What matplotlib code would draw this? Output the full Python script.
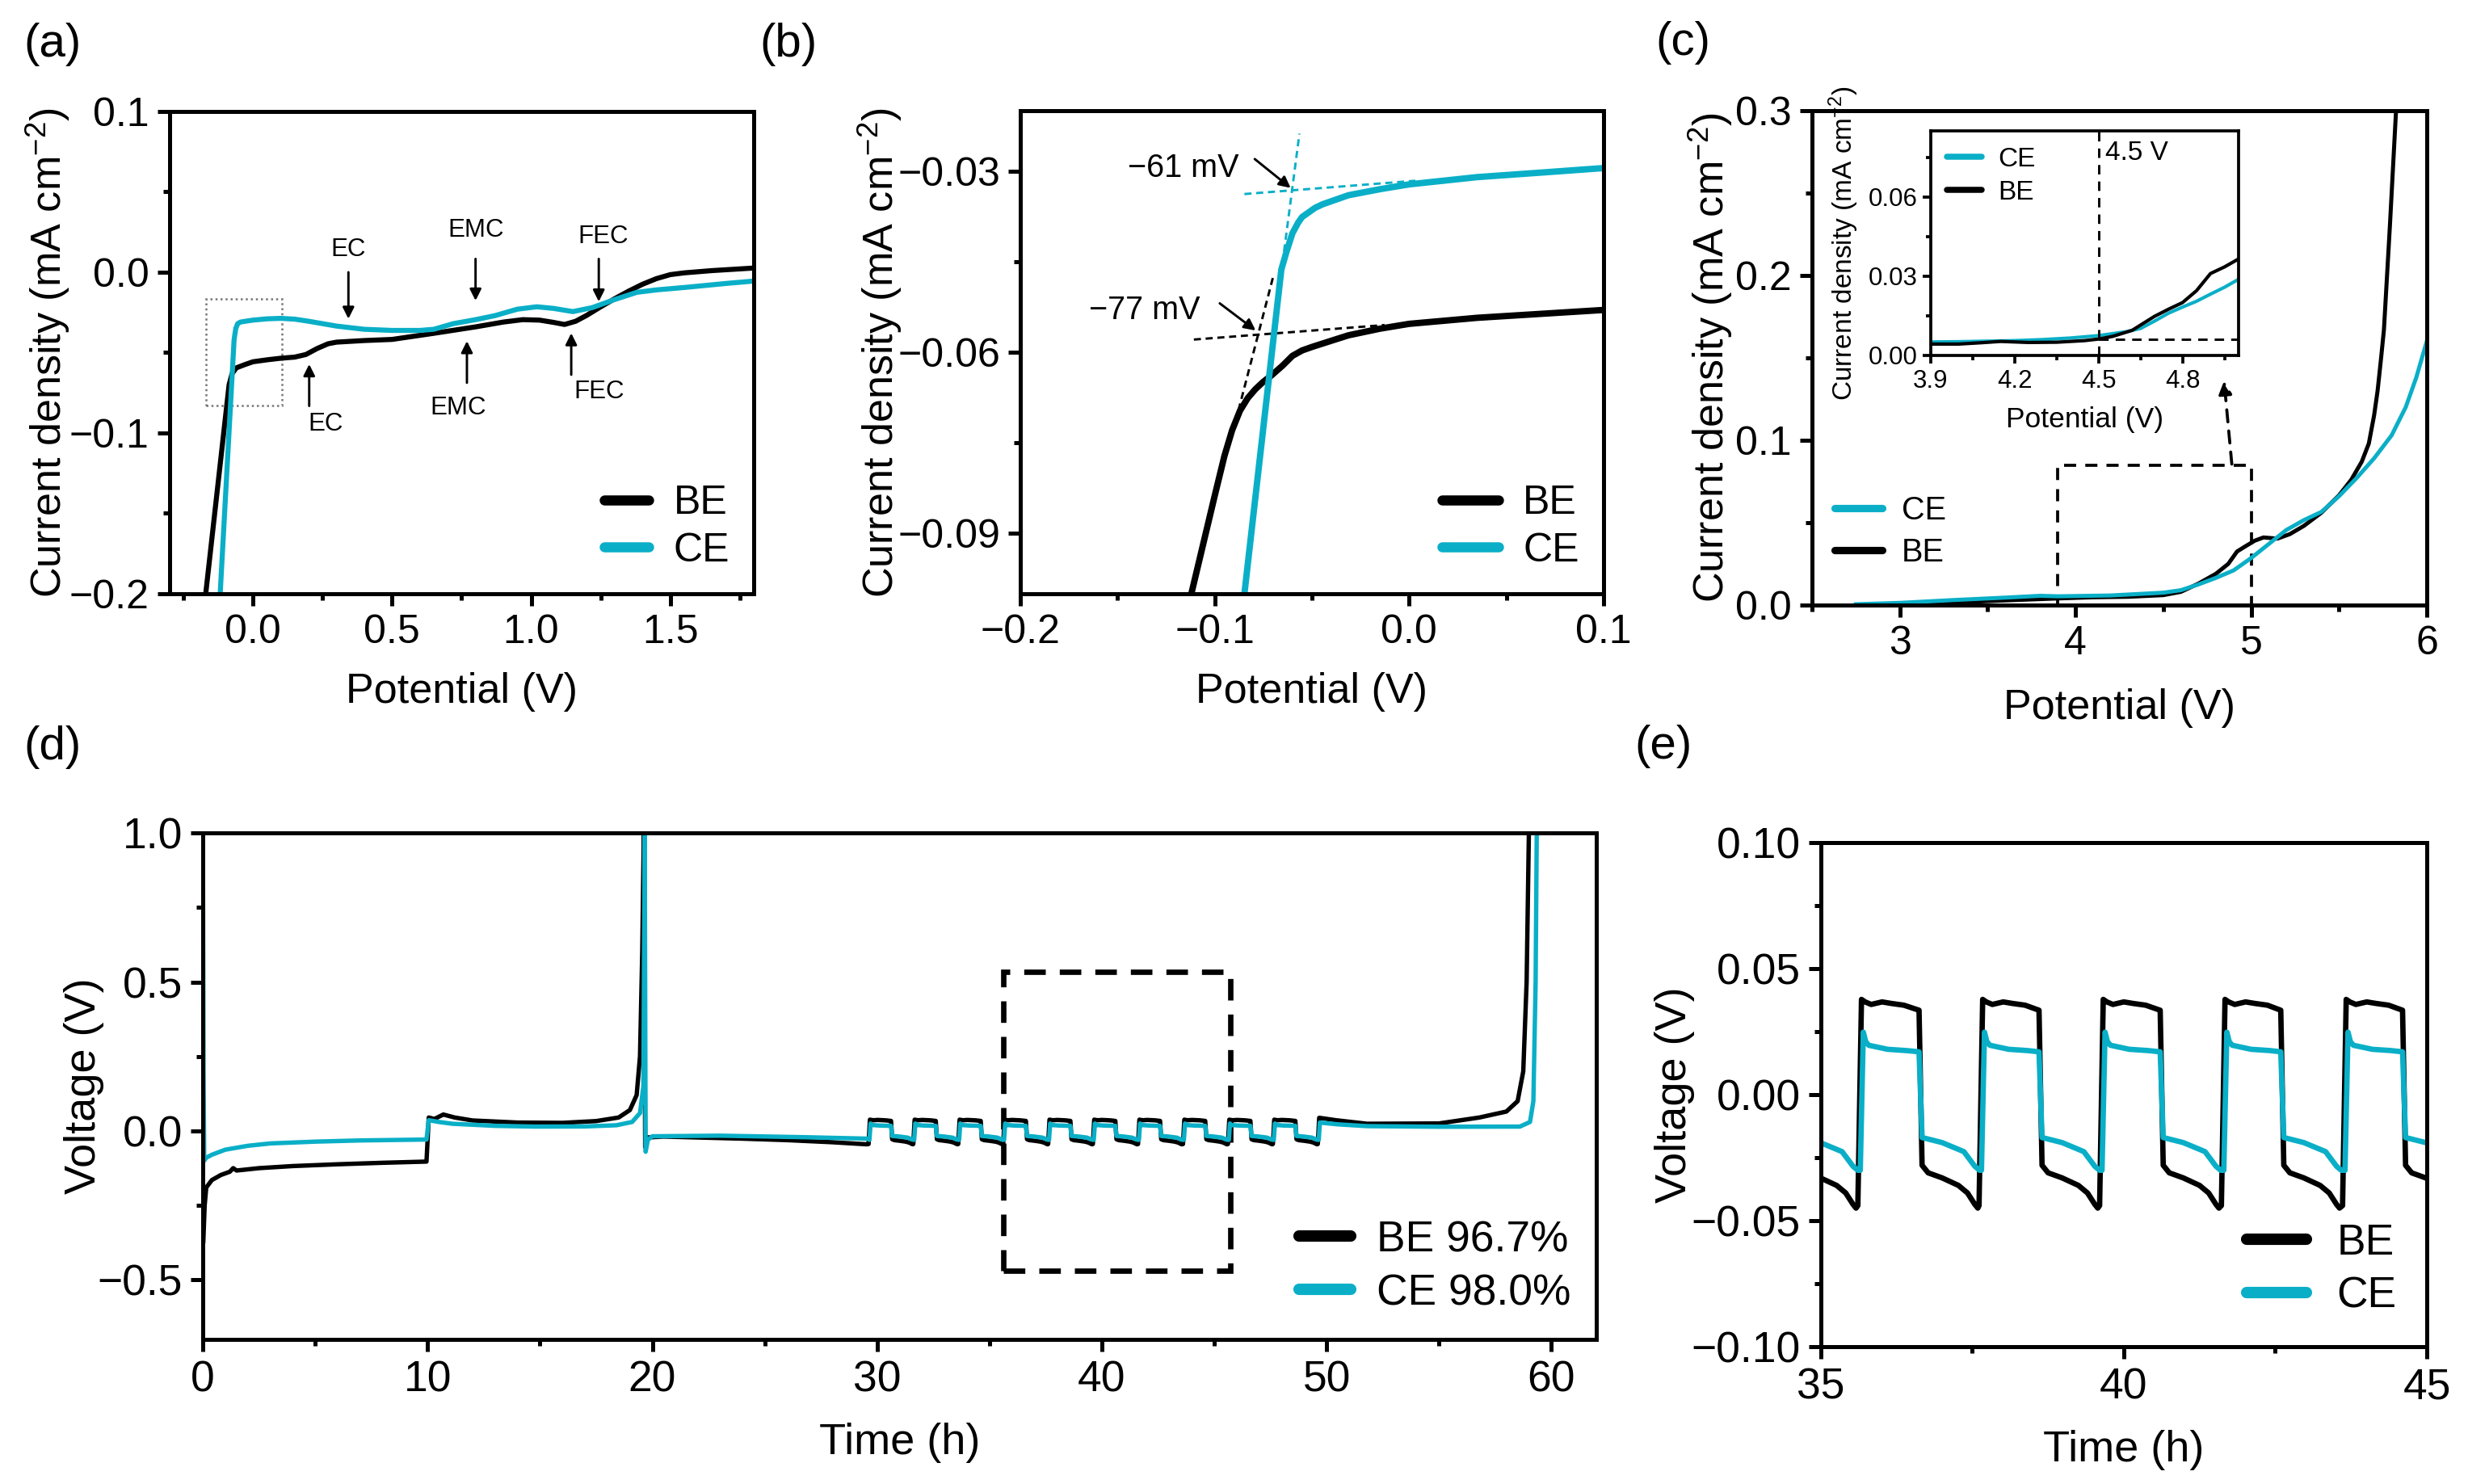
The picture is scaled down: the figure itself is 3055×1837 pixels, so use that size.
import matplotlib
matplotlib.use("Agg")
import matplotlib.pyplot as plt
from matplotlib.lines import Line2D
from matplotlib.patches import Rectangle
from matplotlib.ticker import MultipleLocator, FuncFormatter

plt.rcParams['font.family'] = ['Liberation Sans', 'DejaVu Sans']
plt.rcParams['mathtext.default'] = 'regular'

CYAN = '#0AAFC7'
BLACK = '#000000'

# ---------------- (a) LSV, wide window ----------------
a_be_x = [-0.17, -0.086, -0.075, -0.06, -0.03, 0.0, 0.05, 0.10, 0.15, 0.19, 0.23, 0.27, 0.30,
          0.40, 0.50, 0.65, 0.80, 0.90, 0.97, 1.03, 1.08, 1.12, 1.16, 1.20, 1.25, 1.30, 1.35,
          1.40, 1.45, 1.50, 1.55, 1.65, 1.80]
a_be_y = [-0.200, -0.070, -0.063, -0.0595, -0.0575, -0.0557, -0.0545, -0.0535, -0.0528, -0.0512,
          -0.0475, -0.0445, -0.0435, -0.0425, -0.0418, -0.038, -0.034, -0.031, -0.0295, -0.0298,
          -0.0312, -0.0325, -0.0305, -0.0268, -0.0215, -0.0165, -0.0118, -0.0075, -0.0040,
          -0.0015, -0.0004, 0.0010, 0.0026]
a_ce_x = [-0.118, -0.068, -0.062, -0.055, -0.045, -0.02, 0.0, 0.05, 0.10, 0.15, 0.20, 0.25, 0.30,
          0.40, 0.50, 0.60, 0.65, 0.72, 0.80, 0.87, 0.95, 1.02, 1.08, 1.15, 1.22, 1.30, 1.38,
          1.45, 1.55, 1.70, 1.80]
a_ce_y = [-0.200, -0.042, -0.035, -0.032, -0.031, -0.0303, -0.0298, -0.0290, -0.0287, -0.0292,
          -0.0305, -0.0320, -0.0335, -0.0355, -0.0362, -0.0362, -0.0355, -0.0320, -0.0295,
          -0.0270, -0.0230, -0.0215, -0.0225, -0.0245, -0.0220, -0.0170, -0.0125, -0.0110,
          -0.0095, -0.0070, -0.0055]
a_down_arrows = [('EC', 0.343, 0.0, -0.029, 0.343, 0.014),
                 ('EMC', 0.800, 0.0083, -0.0177, 0.800, 0.026),
                 ('FEC', 1.243, 0.0083, -0.0183, 1.258, 0.0221)]
a_up_arrows = [('EC', 0.202, -0.0832, -0.0572, 0.261, -0.0947),
               ('EMC', 0.769, -0.0688, -0.0428, 0.737, -0.0846),
               ('FEC', 1.144, -0.0638, -0.0379, 1.243, -0.0745)]

# ---------------- (b) LSV, onset close-up ----------------
b_be_x = [-0.112, -0.100, -0.095, -0.091, -0.087, -0.083, -0.079, -0.075, -0.071, -0.065,
          -0.060, -0.055, -0.0497, -0.040, -0.0312, -0.015, 0.0, 0.035, 0.07, 0.1]
b_be_y = [-0.100, -0.0838, -0.0772, -0.0729, -0.0697, -0.0676, -0.0661, -0.0649, -0.0639,
          -0.0622, -0.0606, -0.0597, -0.0591, -0.0581, -0.0572, -0.0561, -0.0553, -0.0543,
          -0.0536, -0.0530]
b_ce_x = [-0.0847, -0.0657, -0.063, -0.060, -0.057, -0.055, -0.0484, -0.0445, -0.0312, -0.015,
          0.0, 0.035, 0.07, 0.1]
b_ce_y = [-0.100, -0.0463, -0.0433, -0.0403, -0.0385, -0.0376, -0.0361, -0.0355, -0.0340,
          -0.0330, -0.0322, -0.0310, -0.0302, -0.0295]
b_tangents = [(CYAN, [-0.0643, -0.0564], [-0.0433, -0.0238]),
              (CYAN, [-0.0847, 0.0032], [-0.0338, -0.0316]),
              (BLACK, [-0.0908, -0.0696], [-0.0734, -0.0471]),
              (BLACK, [-0.1107, -0.0126], [-0.0579, -0.0555])]
b_onsets = [('\u221261 mV', -0.116, -0.0295, -0.0794, -0.0280, -0.0609, -0.0328),
            ('\u221277 mV', -0.136, -0.0531, -0.0974, -0.0519, -0.0789, -0.0564)]

# ---------------- (c) LSV, oxidation ----------------
c_be_x = [2.75, 3.0, 3.3, 3.6, 3.9, 4.1, 4.3, 4.5, 4.6, 4.7, 4.8, 4.87, 4.92, 4.97, 5.02, 5.07,
          5.15, 5.22, 5.30, 5.40, 5.50, 5.57, 5.63, 5.67, 5.70, 5.72, 5.74, 5.756, 5.79, 5.825]
c_be_y = [0.0, 0.0008, 0.0015, 0.0028, 0.0040, 0.0047, 0.0050, 0.0060, 0.0080, 0.0130, 0.0190,
          0.0250, 0.0325, 0.0358, 0.0390, 0.0410, 0.0403, 0.0430, 0.0480, 0.0560, 0.0665,
          0.0760, 0.0870, 0.0980, 0.1150, 0.1300, 0.1500, 0.1670, 0.2300, 0.3000]
c_ce_x = [2.75, 3.0, 3.3, 3.6, 3.8, 3.9, 4.2, 4.5, 4.6, 4.7, 4.8, 4.9, 5.0, 5.1, 5.2, 5.3, 5.4,
          5.5, 5.6, 5.7, 5.8, 5.88, 5.94, 6.0]
c_ce_y = [0.0005, 0.0013, 0.0030, 0.0045, 0.0056, 0.0053, 0.0058, 0.0075, 0.0090, 0.0125,
          0.0165, 0.0210, 0.0285, 0.0370, 0.0455, 0.0515, 0.0565, 0.0660, 0.0770, 0.0890,
          0.1030, 0.1200, 0.1380, 0.1600]
ins_ce_x = [3.9, 4.0, 4.1, 4.2, 4.3, 4.4, 4.5, 4.6, 4.65, 4.7, 4.75, 4.8, 4.85, 4.9, 4.95, 5.0]
ins_ce_y = [0.0051, 0.0052, 0.0054, 0.0056, 0.0060, 0.0066, 0.0075, 0.0090, 0.0102, 0.0130,
            0.0160, 0.0183, 0.0205, 0.0232, 0.0258, 0.0288]
ins_be_x = [3.9, 4.0, 4.08, 4.15, 4.25, 4.35, 4.45, 4.5, 4.55, 4.62, 4.7, 4.75, 4.8, 4.85, 4.9,
            4.95, 5.0]
ins_be_y = [0.0043, 0.0043, 0.0048, 0.0053, 0.0049, 0.0050, 0.0056, 0.0062, 0.0072, 0.0095,
            0.0148, 0.0175, 0.0200, 0.0245, 0.0310, 0.0335, 0.0365]

# ---------------- (d)/(e) Li plating/stripping ----------------
d_be_start_t = [0.02, 0.08, 0.15, 0.4, 0.8, 1.2, 1.35, 1.5, 2.5, 4.0, 6.0, 8.0, 9.95, 10.05, 10.3,
                10.7, 11.2, 12.0, 14.0, 16.0, 17.5, 18.5, 19.0, 19.3, 19.45, 19.55, 19.62, 19.68,
                19.8, 20.5, 22.0, 24.0, 26.0, 28.0, 29.55]
d_be_start_v = [-0.37, -0.25, -0.19, -0.165, -0.148, -0.137, -0.125, -0.133, -0.125, -0.118,
                -0.112, -0.107, -0.103, 0.045, 0.040, 0.055, 0.045, 0.035, 0.028, 0.027, 0.033,
                0.045, 0.070, 0.120, 0.250, 0.600, 1.000, -0.055, -0.022, -0.019, -0.022, -0.026,
                -0.031, -0.038, -0.045]
d_ce_start_t = [0.0, 0.03, 0.06, 0.15, 0.4, 1.0, 2.0, 3.0, 5.0, 7.0, 9.95, 10.05, 10.5, 11.1,
                13.0, 14.8, 17.0, 18.4, 19.1, 19.45, 19.6, 19.66, 19.7, 19.8, 20.0, 23.0, 26.7,
                29.58]
d_ce_start_v = [1.0, 0.2, -0.10, -0.09, -0.08, -0.063, -0.050, -0.042, -0.036, -0.032, -0.029,
                0.036, 0.030, 0.024, 0.017, 0.0145, 0.015, 0.019, 0.030, 0.060, 0.150, 1.000,
                -0.070, -0.030, -0.018, -0.016, -0.021, -0.026]
pulse_up = [29.62, 31.61, 33.61, 35.61, 37.61, 39.60, 41.61, 43.61, 45.61, 47.61]
pulse_down = [30.62, 32.61, 34.61, 36.62, 38.60, 40.60, 42.59, 44.60, 46.61, 48.61]
be_hi_dt = [0.0, 0.06, 0.12, 0.22, 0.40, 0.55, 0.76]
be_hi_v = [-0.044, 0.0378, 0.0368, 0.0358, 0.0368, 0.0362, 0.0355]
be_lo_dt = [0.0, 0.05, 0.15, 0.38, 0.65, 0.80, 0.92, 0.97]
be_lo_v = [0.0335, -0.028, -0.031, -0.033, -0.036, -0.039, -0.0435, -0.045]
ce_hi_dt = [0.04, 0.09, 0.13, 0.18, 0.49, 0.80]
ce_hi_v = [-0.030, 0.0248, 0.0210, 0.0196, 0.0180, 0.0175]
ce_lo_dt = [0.0, 0.05, 0.38, 0.74, 0.92, 1.0]
ce_lo_v = [0.0170, -0.017, -0.019, -0.0226, -0.0284, -0.030]
d_be_end_t = [49.61, 49.67, 50.4, 51.8, 55.0, 56.8, 58.0, 58.5, 58.75, 58.9, 59.0]
d_be_end_v = [-0.044, 0.044, 0.036, 0.024, 0.025, 0.045, 0.065, 0.10, 0.20, 0.50, 1.00]
d_ce_end_t = [49.65, 49.7, 50.5, 51.8, 55.0, 58.6, 59.05, 59.2, 59.3, 59.35]
d_ce_end_v = [-0.030, 0.028, 0.022, 0.016, 0.014, 0.0145, 0.030, 0.10, 0.50, 1.00]
d_box = (35.6, -0.47, 45.7, 0.535)


def cycling(t0, v0, hi_dt, hi_v, lo_dt, lo_v, t1, v1):
    t, v = list(t0), list(v0)
    for up, down in zip(pulse_up, pulse_down):
        t += [up + d for d in hi_dt]
        v += list(hi_v)
        t += [down + d for d in lo_dt]
        v += list(lo_v)
    return t + list(t1), v + list(v1)


def fmt(dec):
    return FuncFormatter(lambda x, p: ('%.*f' % (dec, x)).replace('-', '\u2212'))


def style(ax, fs, lw=1.2, major=3.5, minor=2.0):
    for s in ax.spines.values():
        s.set_linewidth(lw)
    ax.tick_params(which='both', direction='out', top=False, right=False, width=lw,
                   labelsize=fs, pad=2.5)
    ax.tick_params(which='major', length=major)
    ax.tick_params(which='minor', length=minor)


fig = plt.figure(figsize=(3055 / 300, 1837 / 300), dpi=300)

# ---- (a)
ax = fig.add_axes([0.0687, 0.5999, 0.2367, 0.3250])
ax.plot(a_be_x, a_be_y, color=BLACK, lw=1.5)
ax.plot(a_ce_x, a_ce_y, color=CYAN, lw=1.5)
ax.set_xlim(-0.3, 1.8)
ax.set_ylim(-0.2, 0.1)
ax.xaxis.set_major_locator(MultipleLocator(0.5))
ax.xaxis.set_minor_locator(MultipleLocator(0.25))
ax.yaxis.set_major_locator(MultipleLocator(0.1))
ax.yaxis.set_minor_locator(MultipleLocator(0.05))
ax.xaxis.set_major_formatter(fmt(1))
ax.yaxis.set_major_formatter(fmt(1))
style(ax, 12)
ax.add_patch(Rectangle((-0.17, -0.083), 0.275, 0.0662, fill=False, ls=(0, (1, 1.5)),
                       lw=0.6, ec='#777777'))
for lab, x, ytail, ytip, tx, ty in a_down_arrows + a_up_arrows:
    ax.annotate('', xy=(x, ytip), xytext=(x, ytail),
                arrowprops=dict(arrowstyle='-|>', color='k', lw=0.7, mutation_scale=7,
                                shrinkA=0, shrinkB=0))
    ax.text(tx, ty, lab, fontsize=7.5, ha='center', va='center')
ax.set_xlabel('Potential (V)', fontsize=12.5)
ax.set_ylabel('Current density (mA cm$^{-2}$)', fontsize=12.5)
ax.xaxis.set_label_coords(0.5, -0.162)
ax.yaxis.set_label_coords(-0.167, 0.5)
ax.legend([Line2D([], [], color=BLACK, lw=3, solid_capstyle='round'),
           Line2D([], [], color=CYAN, lw=3, solid_capstyle='round')], ['BE', 'CE'],
          loc='lower right', frameon=False, fontsize=12, handlelength=1.1,
          handletextpad=0.6, labelspacing=0.25, borderaxespad=0.2)

# ---- (b)
ax = fig.add_axes([0.4134, 0.5999, 0.2363, 0.3255])
for col, xs, ys in b_tangents:
    ax.plot(xs, ys, color=col, lw=0.7, ls=(0, (3, 2)))
ax.plot(b_be_x, b_be_y, color=BLACK, lw=1.9)
ax.plot(b_ce_x, b_ce_y, color=CYAN, lw=1.9)
ax.set_xlim(-0.2, 0.1)
ax.set_ylim(-0.1, -0.02)
ax.xaxis.set_major_locator(MultipleLocator(0.1))
ax.xaxis.set_minor_locator(MultipleLocator(0.05))
ax.set_yticks([-0.09, -0.06, -0.03])
ax.set_yticks([-0.075, -0.045], minor=True)
ax.xaxis.set_major_formatter(fmt(1))
ax.yaxis.set_major_formatter(fmt(2))
style(ax, 12)
for lab, tx, ty, x0, y0, x1, y1 in b_onsets:
    ax.annotate('', xy=(x1, y1), xytext=(x0, y0),
                arrowprops=dict(arrowstyle='-|>', color='k', lw=0.7, mutation_scale=7,
                                shrinkA=0, shrinkB=0))
    ax.text(tx, ty, lab, fontsize=9.5, ha='center', va='center')
ax.set_xlabel('Potential (V)', fontsize=12.5)
ax.set_ylabel('Current density (mA cm$^{-2}$)', fontsize=12.5)
ax.xaxis.set_label_coords(0.5, -0.162)
ax.yaxis.set_label_coords(-0.20, 0.5)
ax.legend([Line2D([], [], color=BLACK, lw=3, solid_capstyle='round'),
           Line2D([], [], color=CYAN, lw=3, solid_capstyle='round')], ['BE', 'CE'],
          loc='lower right', frameon=False, fontsize=12, handlelength=1.4,
          handletextpad=0.6, labelspacing=0.25, borderaxespad=0.2)

# ---- (c)
ax = fig.add_axes([0.7342, 0.5923, 0.2491, 0.3332])
ax.plot(c_be_x, c_be_y, color=BLACK, lw=1.2)
ax.plot(c_ce_x, c_ce_y, color=CYAN, lw=1.2)
ax.set_xlim(2.5, 6)
ax.set_ylim(0, 0.3)
ax.xaxis.set_major_locator(MultipleLocator(1))
ax.xaxis.set_minor_locator(MultipleLocator(0.5))
ax.yaxis.set_major_locator(MultipleLocator(0.1))
ax.yaxis.set_minor_locator(MultipleLocator(0.05))
ax.xaxis.set_major_formatter(fmt(0))
ax.yaxis.set_major_formatter(fmt(1))
style(ax, 12)
ax.add_patch(Rectangle((3.9, 0.0), 1.1, 0.085, fill=False, ls=(0, (4, 3)), lw=0.9, ec='k'))
ax.annotate('', xy=(4.846, 0.136), xytext=(4.89, 0.0855),
            arrowprops=dict(arrowstyle='-|>', color='k', lw=0.9, ls=(0, (4, 3)),
                            mutation_scale=8, shrinkA=0, shrinkB=0))
ax.set_xlabel('Potential (V)', fontsize=12.5)
ax.set_ylabel('Current density (mA cm$^{-2}$)', fontsize=12.5)
ax.xaxis.set_label_coords(0.5, -0.168)
ax.yaxis.set_label_coords(-0.126, 0.5)
ax.legend([Line2D([], [], color=CYAN, lw=2.2, solid_capstyle='round'),
           Line2D([], [], color=BLACK, lw=2.2, solid_capstyle='round')], ['CE', 'BE'],
          loc='lower left', bbox_to_anchor=(0.0, 0.03), frameon=False, fontsize=9.5,
          handlelength=1.5, handletextpad=0.6, labelspacing=0.35, borderaxespad=0.3)

# inset
ins = fig.add_axes([0.7823, 0.7605, 0.1247, 0.1513])
ins.plot(ins_ce_x, ins_ce_y, color=CYAN, lw=1.0)
ins.plot(ins_be_x, ins_be_y, color=BLACK, lw=1.0)
ins.axvline(4.5, color='k', lw=0.7, ls=(0, (4, 3)))
ins.plot([4.5, 5.0], [0.006, 0.006], color='k', lw=0.7, ls=(0, (4, 3)))
ins.text(4.525, 0.0765, '4.5 V', fontsize=8, va='center', ha='left')
ins.set_xlim(3.9, 5.0)
ins.set_ylim(0, 0.085)
ins.xaxis.set_major_locator(MultipleLocator(0.3))
ins.xaxis.set_minor_locator(MultipleLocator(0.15))
ins.set_yticks([0.0, 0.03, 0.06])
ins.set_yticks([0.015, 0.045, 0.075], minor=True)
ins.xaxis.set_major_formatter(fmt(1))
ins.yaxis.set_major_formatter(fmt(2))
style(ins, 7.5, lw=0.9, major=2.5, minor=1.5)
ins.tick_params(pad=1.5)
ins.set_xlabel('Potential (V)', fontsize=8.5)
ins.set_ylabel('Current density (mA cm$^{-2}$)', fontsize=8)
ins.xaxis.set_label_coords(0.5, -0.227)
ins.yaxis.set_label_coords(-0.228, 0.5)
ins.legend([Line2D([], [], color=CYAN, lw=1.8, solid_capstyle='round'),
            Line2D([], [], color=BLACK, lw=1.8, solid_capstyle='round')], ['CE', 'BE'],
           loc='upper left', frameon=False, fontsize=8, handlelength=1.3,
           handletextpad=0.6, labelspacing=0.3, borderaxespad=0.2)

# ---- (d) and (e) share one data set
be_t, be_v = cycling(d_be_start_t, d_be_start_v, be_hi_dt, be_hi_v, be_lo_dt, be_lo_v,
                     d_be_end_t, d_be_end_v)
ce_t, ce_v = cycling(d_ce_start_t, d_ce_start_v, ce_hi_dt, ce_hi_v, ce_lo_dt, ce_lo_v,
                     d_ce_end_t, d_ce_end_v)

ax = fig.add_axes([0.0822, 0.0974, 0.5646, 0.3413])
ax.plot(be_t, be_v, color=BLACK, lw=1.3)
ax.plot(ce_t, ce_v, color=CYAN, lw=1.3)
x0, y0, x1, y1 = d_box
ax.add_patch(Rectangle((x0, y0), x1 - x0, y1 - y0, fill=False, ls=(0, (4, 2.6)), lw=1.6,
                       ec='k'))
ax.set_xlim(0, 62)
ax.set_ylim(-0.7, 1.0)
ax.xaxis.set_major_locator(MultipleLocator(10))
ax.xaxis.set_minor_locator(MultipleLocator(5))
ax.yaxis.set_major_locator(MultipleLocator(0.5))
ax.yaxis.set_minor_locator(MultipleLocator(0.25))
ax.xaxis.set_major_formatter(fmt(0))
ax.yaxis.set_major_formatter(fmt(1))
style(ax, 12.8)
ax.set_xlabel('Time (h)', fontsize=13)
ax.set_ylabel('Voltage (V)', fontsize=13)
ax.xaxis.set_label_coords(0.5, -0.164)
ax.yaxis.set_label_coords(-0.071, 0.5)
ax.legend([Line2D([], [], color=BLACK, lw=3.4, solid_capstyle='round'),
           Line2D([], [], color=CYAN, lw=3.4, solid_capstyle='round')],
          ['BE 96.7%', 'CE 98.0%'], loc='lower right', frameon=False, fontsize=12.8,
          handlelength=1.2, handletextpad=0.6, labelspacing=0.3, borderaxespad=0.2)

ax = fig.add_axes([0.7378, 0.0925, 0.2455, 0.3397])
ax.plot(be_t, be_v, color=BLACK, lw=1.6)
ax.plot(ce_t, ce_v, color=CYAN, lw=1.6)
ax.set_xlim(35, 45)
ax.set_ylim(-0.1, 0.1)
ax.xaxis.set_major_locator(MultipleLocator(5))
ax.xaxis.set_minor_locator(MultipleLocator(2.5))
ax.yaxis.set_major_locator(MultipleLocator(0.05))
ax.yaxis.set_minor_locator(MultipleLocator(0.025))
ax.xaxis.set_major_formatter(fmt(0))
ax.yaxis.set_major_formatter(fmt(2))
style(ax, 12.8)
ax.set_xlabel('Time (h)', fontsize=13)
ax.set_ylabel('Voltage (V)', fontsize=13)
ax.xaxis.set_label_coords(0.5, -0.165)
ax.yaxis.set_label_coords(-0.208, 0.5)
ax.legend([Line2D([], [], color=BLACK, lw=3.4, solid_capstyle='round'),
           Line2D([], [], color=CYAN, lw=3.4, solid_capstyle='round')], ['BE', 'CE'],
          loc='lower right', frameon=False, fontsize=12.8, handlelength=1.4,
          handletextpad=0.7, labelspacing=0.3, borderaxespad=0.3)

# panel letters
for lab, x, y in [('(a)', 0.0095, 0.970), ('(b)', 0.3077, 0.970), ('(c)', 0.6707, 0.971),
                  ('(d)', 0.0095, 0.4965), ('(e)', 0.6622, 0.497)]:
    fig.text(x, y, lab, fontsize=14, ha='left', va='center')

fig.savefig('out.png', dpi=300)
